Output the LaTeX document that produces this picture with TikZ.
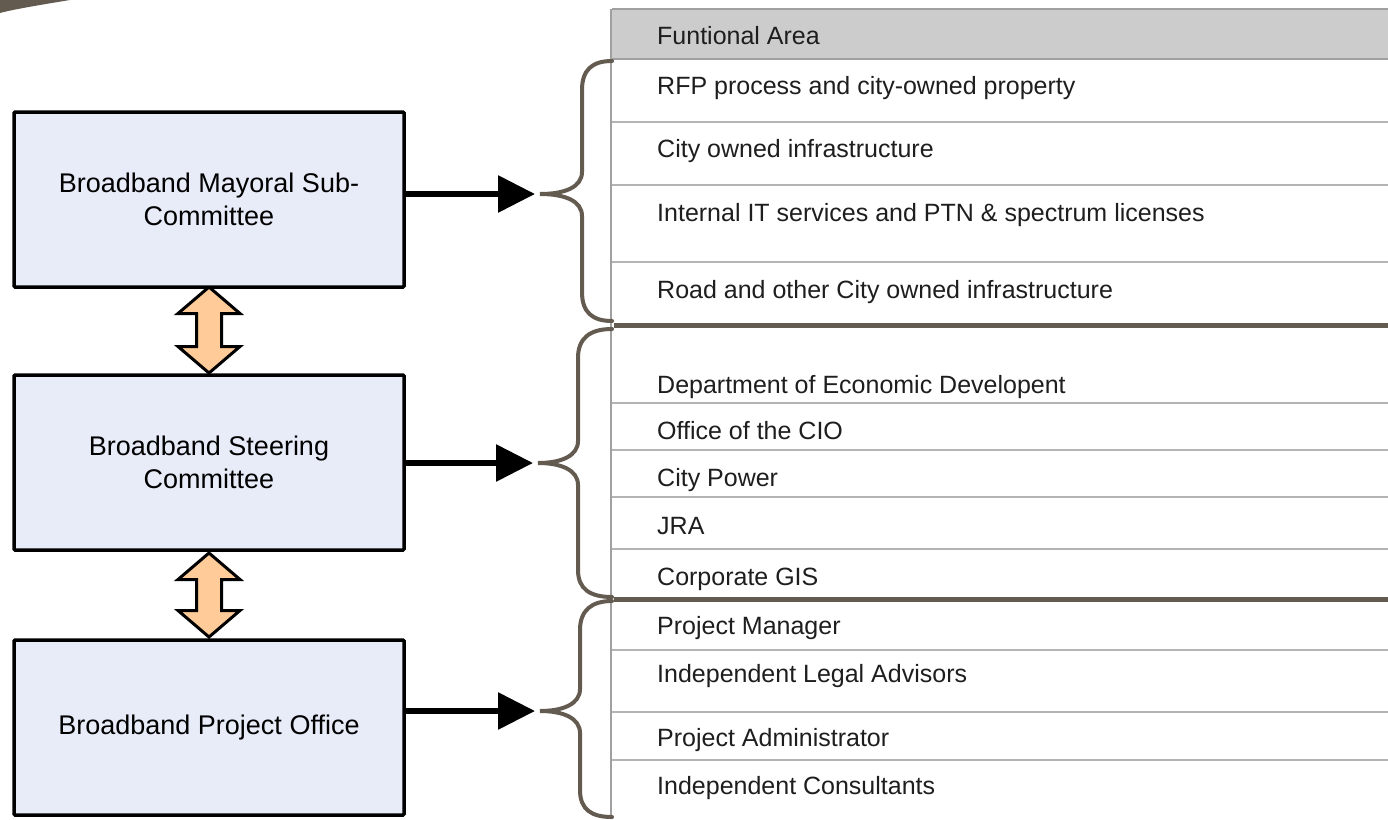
\documentclass[tikz,border=0pt]{standalone}
\usepackage{fontspec}
\setmainfont{Liberation Sans}
\usetikzlibrary{arrows.meta,calc}
\definecolor{boxfill}{RGB}{232,236,248}
\definecolor{peach}{RGB}{255,204,153}
\definecolor{bracec}{RGB}{99,90,80}
\definecolor{rowline}{RGB}{180,180,180}
\definecolor{hdrfill}{RGB}{204,204,204}
\definecolor{hdrline}{RGB}{160,160,160}
\definecolor{txt}{RGB}{30,30,30}
\begin{document}
\begin{tikzpicture}[x=1pt,y=-1pt,
  orgbox/.style={draw=black,line width=3.5pt,fill=boxfill,minimum width=390pt,minimum height=175pt,inner sep=0pt,align=center,font=\fontsize{27}{33}\selectfont,rounded corners=1pt},
  rowtext/.style={anchor=base west,inner sep=0pt,font=\fontsize{25}{30}\selectfont,text=txt},
  rowrule/.style={draw=rowline,line width=2pt},
  thickrule/.style={draw=bracec,line width=5pt},
  brace/.style={draw=bracec,line width=4pt,line cap=round},
  flow/.style={draw=black,line width=6pt,-{Triangle[length=37pt,width=36pt]},shorten >=5pt},
  dbl/.style={draw=black,line width=3pt,fill=peach,line join=miter}
]
\useasboundingbox[fill=white] (0,0) rectangle (1388,819);
% decorative wedge
\fill[bracec] (0,0) -- (70,0) .. controls (40,5) and (15,9) .. (0,13) -- cycle;

% table
\fill[hdrfill] (612,9) rectangle (1388,59);
\draw[draw=hdrline,line width=2pt] (612,9) -- (1388,9);
\draw[draw=hdrline,line width=2pt] (612,59) -- (1388,59);
\foreach \yy in {122,185,262,403,450,497,549,650,712,760}
  \draw[rowrule] (612,\yy) -- (1388,\yy);
\draw[draw=hdrline,line width=2.5pt] (611,9) -- (611,819);
\draw[thickrule] (614,325) -- (1388,325);
\draw[thickrule] (614,599) -- (1388,599);

\node[rowtext] (r0) at (657,44) {Funtional Area};
\node[rowtext] (r1) at (657,94) {RFP process and city-owned property};
\node[rowtext] (r2) at (657,157) {City owned infrastructure};
\node[rowtext] (r3) at (657,221) {Internal IT services and PTN \& spectrum licenses};
\node[rowtext] (r4) at (657,298) {Road and other City owned infrastructure};
\node[rowtext] (r5) at (657,393) {Department of Economic Developent};
\node[rowtext] (r6) at (657,439) {Office of the CIO};
\node[rowtext] (r7) at (657,486) {City Power};
\node[rowtext] (r8) at (657,534) {JRA};
\node[rowtext] (r9) at (657,585) {Corporate GIS};
\node[rowtext] (r10) at (657,634) {Project Manager};
\node[rowtext] (r11) at (657,682) {Independent Legal Advisors};
\node[rowtext] (r12) at (657,746) {Project Administrator};
\node[rowtext] (r13) at (657,794) {Independent Consultants};

% braces
\coordinate (t1) at (540,194);
\coordinate (t2) at (538,463);
\coordinate (t3) at (540,711);
\draw[brace] (612,61) .. controls (592,61) and (582,70) .. (582,90) -- (582,172)
  .. controls (582,187) and (565,194) .. (t1)
  .. controls (565,194) and (582,201) .. (582,216) -- (582,292)
  .. controls (582,312) and (592,321) .. (612,321);
\draw[brace] (612,329) .. controls (590,329) and (578,338) .. (578,358) -- (578,441)
  .. controls (578,456) and (561,463) .. (t2)
  .. controls (561,463) and (578,470) .. (578,485) -- (578,570)
  .. controls (578,589) and (590,597) .. (612,597);
\draw[brace] (612,601) .. controls (592,601) and (580,610) .. (580,630) -- (580,689)
  .. controls (580,704) and (563,711) .. (t3)
  .. controls (563,711) and (580,718) .. (580,733) -- (580,790)
  .. controls (580,810) and (592,817) .. (612,817);

% double arrows
\coordinate (d1t) at (209,287);
\coordinate (d1b) at (209,373);
\coordinate (d2t) at (209,553);
\coordinate (d2b) at (209,637);
\foreach \a/\b in {d1t/d1b,d2t/d2b}
  \draw[dbl] (\a) -- ++(31,26.5) -- ++(-18.5,0) -- ($(\b)+(12.5,-26.5)$) -- ++(18.5,0) -- (\b)
    -- ++(-31,-26.5) -- ++(18.5,0) -- ($(\a)+(-12.5,26.5)$) -- ++(-18.5,0) -- cycle;

% boxes
\node[orgbox] (b1) at (209,199.5) {Broadband Mayoral Sub-\\Committee};
\node[orgbox] (b2) at (209,462.5) {Broadband Steering\\Committee};
\node[orgbox] (b3) at (209,727.5) {Broadband Project Office};

% flow arrows
\draw[flow] (b1.east |- t1) -- (t1);
\draw[flow] (b2.east |- t2) -- (t2);
\draw[flow] (b3.east |- t3) -- (t3);
\end{tikzpicture}
\end{document}
